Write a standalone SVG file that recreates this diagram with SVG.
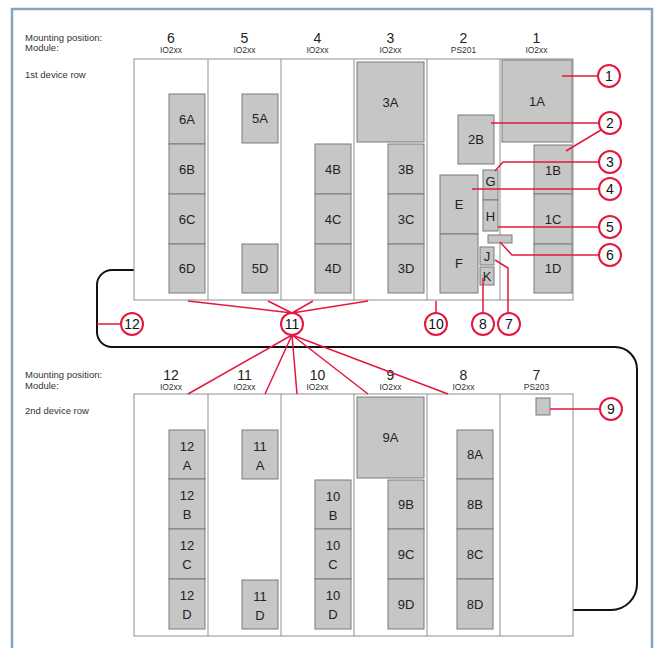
<svg xmlns="http://www.w3.org/2000/svg" width="656" height="648" viewBox="0 0 656 648">
<style>
text{font-family:"Liberation Sans",Arial,sans-serif;fill:#222}
.lbl{font-size:9.5px;fill:#333}
.num{font-size:14px;text-anchor:middle}
.mod{font-size:8.5px;text-anchor:middle;fill:#333}
.b{fill:#c6c6c6;stroke:#7a7a7a;stroke-width:1}
.t{font-size:13px;text-anchor:middle;fill:#222}
.frame{fill:#fff;stroke:#8f8f8f;stroke-width:1}
.div{stroke:#8f8f8f;stroke-width:1}
.c circle{fill:#fff;stroke:#e5173f;stroke-width:2}
.c text{font-size:14px;text-anchor:middle;fill:#111}
.ld{fill:none;stroke:#e5173f;stroke-width:1.5}
.cable{fill:none;stroke:#111;stroke-width:2}
</style>
<rect x="0" y="0" width="656" height="648" fill="#fff"/>
<rect x="12" y="9" width="640" height="650" fill="#fff" stroke="#86a3bf" stroke-width="2.5"/>

<!-- labels -->
<g id="labels">
<text class="lbl" x="25" y="41">Mounting position:</text>
<text class="lbl" x="25" y="51">Module:</text>
<text class="lbl" x="25" y="78">1st device row</text>
<text class="lbl" x="25" y="378">Mounting position:</text>
<text class="lbl" x="25" y="389">Module:</text>
<text class="lbl" x="25" y="414">2nd device row</text>
</g>

<!-- connectors -->
<g id="connectors">
<path class="cable" d="M134,270 H112 A15,15 0 0 0 97,285 V332 A15,15 0 0 0 112,347 H615 A22,22 0 0 1 637,369 V584 A26,26 0 0 1 611,610 H572"/>
</g>

<!-- top row -->
<g id="row1">
<rect class="frame" x="134" y="59" width="439" height="241"/>
<line class="div" x1="208" y1="59" x2="208" y2="300"/>
<line class="div" x1="281" y1="59" x2="281" y2="300"/>
<line class="div" x1="354" y1="59" x2="354" y2="300"/>
<line class="div" x1="427" y1="59" x2="427" y2="300"/>
<line class="div" x1="500" y1="59" x2="500" y2="300"/>
</g>
<g id="hdr1">
<text class="num" x="171" y="43">6</text><text class="mod" x="171" y="53">IO2xx</text>
<text class="num" x="244.5" y="43">5</text><text class="mod" x="244.5" y="53">IO2xx</text>
<text class="num" x="317.5" y="43">4</text><text class="mod" x="317.5" y="53">IO2xx</text>
<text class="num" x="390.5" y="43">3</text><text class="mod" x="390.5" y="53">IO2xx</text>
<text class="num" x="463.5" y="43">2</text><text class="mod" x="463.5" y="53">PS201</text>
<text class="num" x="536.5" y="43">1</text><text class="mod" x="536.5" y="53">IO2xx</text>
</g>
<g id="m6">
<rect class="b" x="169" y="94" width="36" height="50"/><text class="t" x="187" y="124">6A</text>
<rect class="b" x="169" y="144" width="36" height="50"/><text class="t" x="187" y="174">6B</text>
<rect class="b" x="169" y="194" width="36" height="50"/><text class="t" x="187" y="224">6C</text>
<rect class="b" x="169" y="244" width="36" height="49"/><text class="t" x="187" y="273">6D</text>
</g>
<g id="m5">
<rect class="b" x="242" y="94" width="36" height="49"/><text class="t" x="260" y="123">5A</text>
<rect class="b" x="242" y="244" width="36" height="49"/><text class="t" x="260" y="273">5D</text>
</g>
<g id="m4">
<rect class="b" x="315" y="144" width="36" height="50"/><text class="t" x="333" y="174">4B</text>
<rect class="b" x="315" y="194" width="36" height="50"/><text class="t" x="333" y="224">4C</text>
<rect class="b" x="315" y="244" width="36" height="49"/><text class="t" x="333" y="273">4D</text>
</g>
<g id="m3">
<rect class="b" x="357" y="62" width="67" height="80"/><text class="t" x="390.5" y="107">3A</text>
<rect class="b" x="388" y="144" width="36" height="50"/><text class="t" x="406" y="174">3B</text>
<rect class="b" x="388" y="194" width="36" height="50"/><text class="t" x="406" y="224">3C</text>
<rect class="b" x="388" y="244" width="36" height="49"/><text class="t" x="406" y="273">3D</text>
</g>
<g id="m2">
<rect class="b" x="458" y="115" width="36" height="49"/><text class="t" x="476" y="144">2B</text>
<rect class="b" x="440" y="175" width="38" height="59"/><text class="t" x="459" y="209">E</text>
<rect class="b" x="440" y="234" width="38" height="59"/><text class="t" x="459" y="268">F</text>
<rect class="b" x="483" y="170" width="15" height="30"/><text class="t" x="490.5" y="186">G</text>
<rect class="b" x="483" y="200" width="15" height="31"/><text class="t" x="490.5" y="221">H</text>
<rect class="b" x="488" y="235" width="24" height="8"/>
<rect class="b" x="480" y="247" width="14" height="18"/><text class="t" x="487" y="261">J</text>
<rect class="b" x="480" y="267" width="14" height="18"/><text class="t" x="487" y="281">K</text>
</g>
<g id="m1">
<rect class="b" x="502" y="60" width="70" height="82"/><text class="t" x="537" y="106">1A</text>
<rect class="b" x="534" y="145" width="38" height="49"/><text class="t" x="553" y="175">1B</text>
<rect class="b" x="534" y="194" width="38" height="50"/><text class="t" x="553" y="224">1C</text>
<rect class="b" x="534" y="244" width="38" height="49"/><text class="t" x="553" y="273">1D</text>
</g>

<!-- bottom row -->
<g id="row2">
<rect class="frame" x="134" y="394" width="439" height="242"/>
<line class="div" x1="208" y1="394" x2="208" y2="636"/>
<line class="div" x1="281" y1="394" x2="281" y2="636"/>
<line class="div" x1="354" y1="394" x2="354" y2="636"/>
<line class="div" x1="427" y1="394" x2="427" y2="636"/>
<line class="div" x1="500" y1="394" x2="500" y2="636"/>
</g>
<g id="hdr2">
<text class="num" x="171" y="380">12</text><text class="mod" x="171" y="390">IO2xx</text>
<text class="num" x="244.5" y="380">11</text><text class="mod" x="244.5" y="390">IO2xx</text>
<text class="num" x="317.5" y="380">10</text><text class="mod" x="317.5" y="390">IO2xx</text>
<text class="num" x="390.5" y="380">9</text><text class="mod" x="390.5" y="390">IO2xx</text>
<text class="num" x="463.5" y="380">8</text><text class="mod" x="463.5" y="390">IO2xx</text>
<text class="num" x="536.5" y="380">7</text><text class="mod" x="536.5" y="390">PS203</text>
</g>
<g id="m12">
<rect class="b" x="169" y="430" width="36" height="49"/><text class="t" x="187" y="451">12</text><text class="t" x="187" y="470">A</text>
<rect class="b" x="169" y="479" width="36" height="50"/><text class="t" x="187" y="500">12</text><text class="t" x="187" y="519">B</text>
<rect class="b" x="169" y="529" width="36" height="50"/><text class="t" x="187" y="550">12</text><text class="t" x="187" y="569">C</text>
<rect class="b" x="169" y="579" width="36" height="50"/><text class="t" x="187" y="600">12</text><text class="t" x="187" y="619">D</text>
</g>
<g id="m11">
<rect class="b" x="242" y="430" width="36" height="49"/><text class="t" x="260" y="451">11</text><text class="t" x="260" y="470">A</text>
<rect class="b" x="242" y="580" width="36" height="49"/><text class="t" x="260" y="601">11</text><text class="t" x="260" y="620">D</text>
</g>
<g id="m10">
<rect class="b" x="315" y="480" width="36" height="49"/><text class="t" x="333" y="501">10</text><text class="t" x="333" y="520">B</text>
<rect class="b" x="315" y="529" width="36" height="50"/><text class="t" x="333" y="550">10</text><text class="t" x="333" y="569">C</text>
<rect class="b" x="315" y="579" width="36" height="50"/><text class="t" x="333" y="600">10</text><text class="t" x="333" y="619">D</text>
</g>
<g id="m9">
<rect class="b" x="357" y="397" width="67" height="81"/><text class="t" x="390.5" y="442">9A</text>
<rect class="b" x="388" y="480" width="36" height="49"/><text class="t" x="406" y="509">9B</text>
<rect class="b" x="388" y="529" width="36" height="50"/><text class="t" x="406" y="559">9C</text>
<rect class="b" x="388" y="579" width="36" height="50"/><text class="t" x="406" y="609">9D</text>
</g>
<g id="m8">
<rect class="b" x="457" y="430" width="36" height="49"/><text class="t" x="475" y="459">8A</text>
<rect class="b" x="457" y="479" width="36" height="50"/><text class="t" x="475" y="509">8B</text>
<rect class="b" x="457" y="529" width="36" height="50"/><text class="t" x="475" y="559">8C</text>
<rect class="b" x="457" y="579" width="36" height="50"/><text class="t" x="475" y="609">8D</text>
</g>
<g id="m7">
<rect class="b" x="536" y="398" width="14" height="17"/>
</g>

<!-- leader lines -->
<g id="leaders">
<path class="ld" d="M562,76 H598"/>
<path class="ld" d="M491,123 H599"/>
<path class="ld" d="M566,151 L601,130"/>
<path class="ld" d="M495,171 L503,162 H599"/>
<path class="ld" d="M472,189 H599"/>
<path class="ld" d="M498,227 H599"/>
<path class="ld" d="M500,242 L512,255 H599"/>
<path class="ld" d="M495,260 L508,268 V313"/>
<path class="ld" d="M483,278 V313"/>
<path class="ld" d="M436,301 V313"/>
<path class="ld" d="M188,301 L292,313 M268,301 L292,313 M313,301 L292,313 M368,301 L292,313"/>
<path class="ld" d="M292,335 L188,394 M292,335 L265,394 M292,335 L297,394 M292,335 L368,394 M292,335 L448,394"/>
<path class="ld" d="M97,324 H121"/>
<path class="ld" d="M550,409 H600"/>
</g>

<!-- callouts -->
<g id="c1" class="c"><circle cx="609" cy="76" r="11"/><text x="609" y="81">1</text></g>
<g id="c2" class="c"><circle cx="610" cy="123" r="11"/><text x="610" y="128">2</text></g>
<g id="c3" class="c"><circle cx="610" cy="162" r="11"/><text x="610" y="167">3</text></g>
<g id="c4" class="c"><circle cx="610" cy="189" r="11"/><text x="610" y="194">4</text></g>
<g id="c5" class="c"><circle cx="610" cy="227" r="11"/><text x="610" y="232">5</text></g>
<g id="c6" class="c"><circle cx="610" cy="255" r="11"/><text x="610" y="260">6</text></g>
<g id="c7" class="c"><circle cx="509" cy="324" r="11"/><text x="509" y="329">7</text></g>
<g id="c8" class="c"><circle cx="483" cy="324" r="11"/><text x="483" y="329">8</text></g>
<g id="c10" class="c"><circle cx="436" cy="324" r="11"/><text x="436" y="329">10</text></g>
<g id="c11" class="c"><circle cx="292" cy="324" r="11"/><text x="292" y="329">11</text></g>
<g id="c12" class="c"><circle cx="132" cy="324" r="11"/><text x="132" y="329">12</text></g>
<g id="c9" class="c"><circle cx="611" cy="409" r="11"/><text x="611" y="414">9</text></g>
</svg>
